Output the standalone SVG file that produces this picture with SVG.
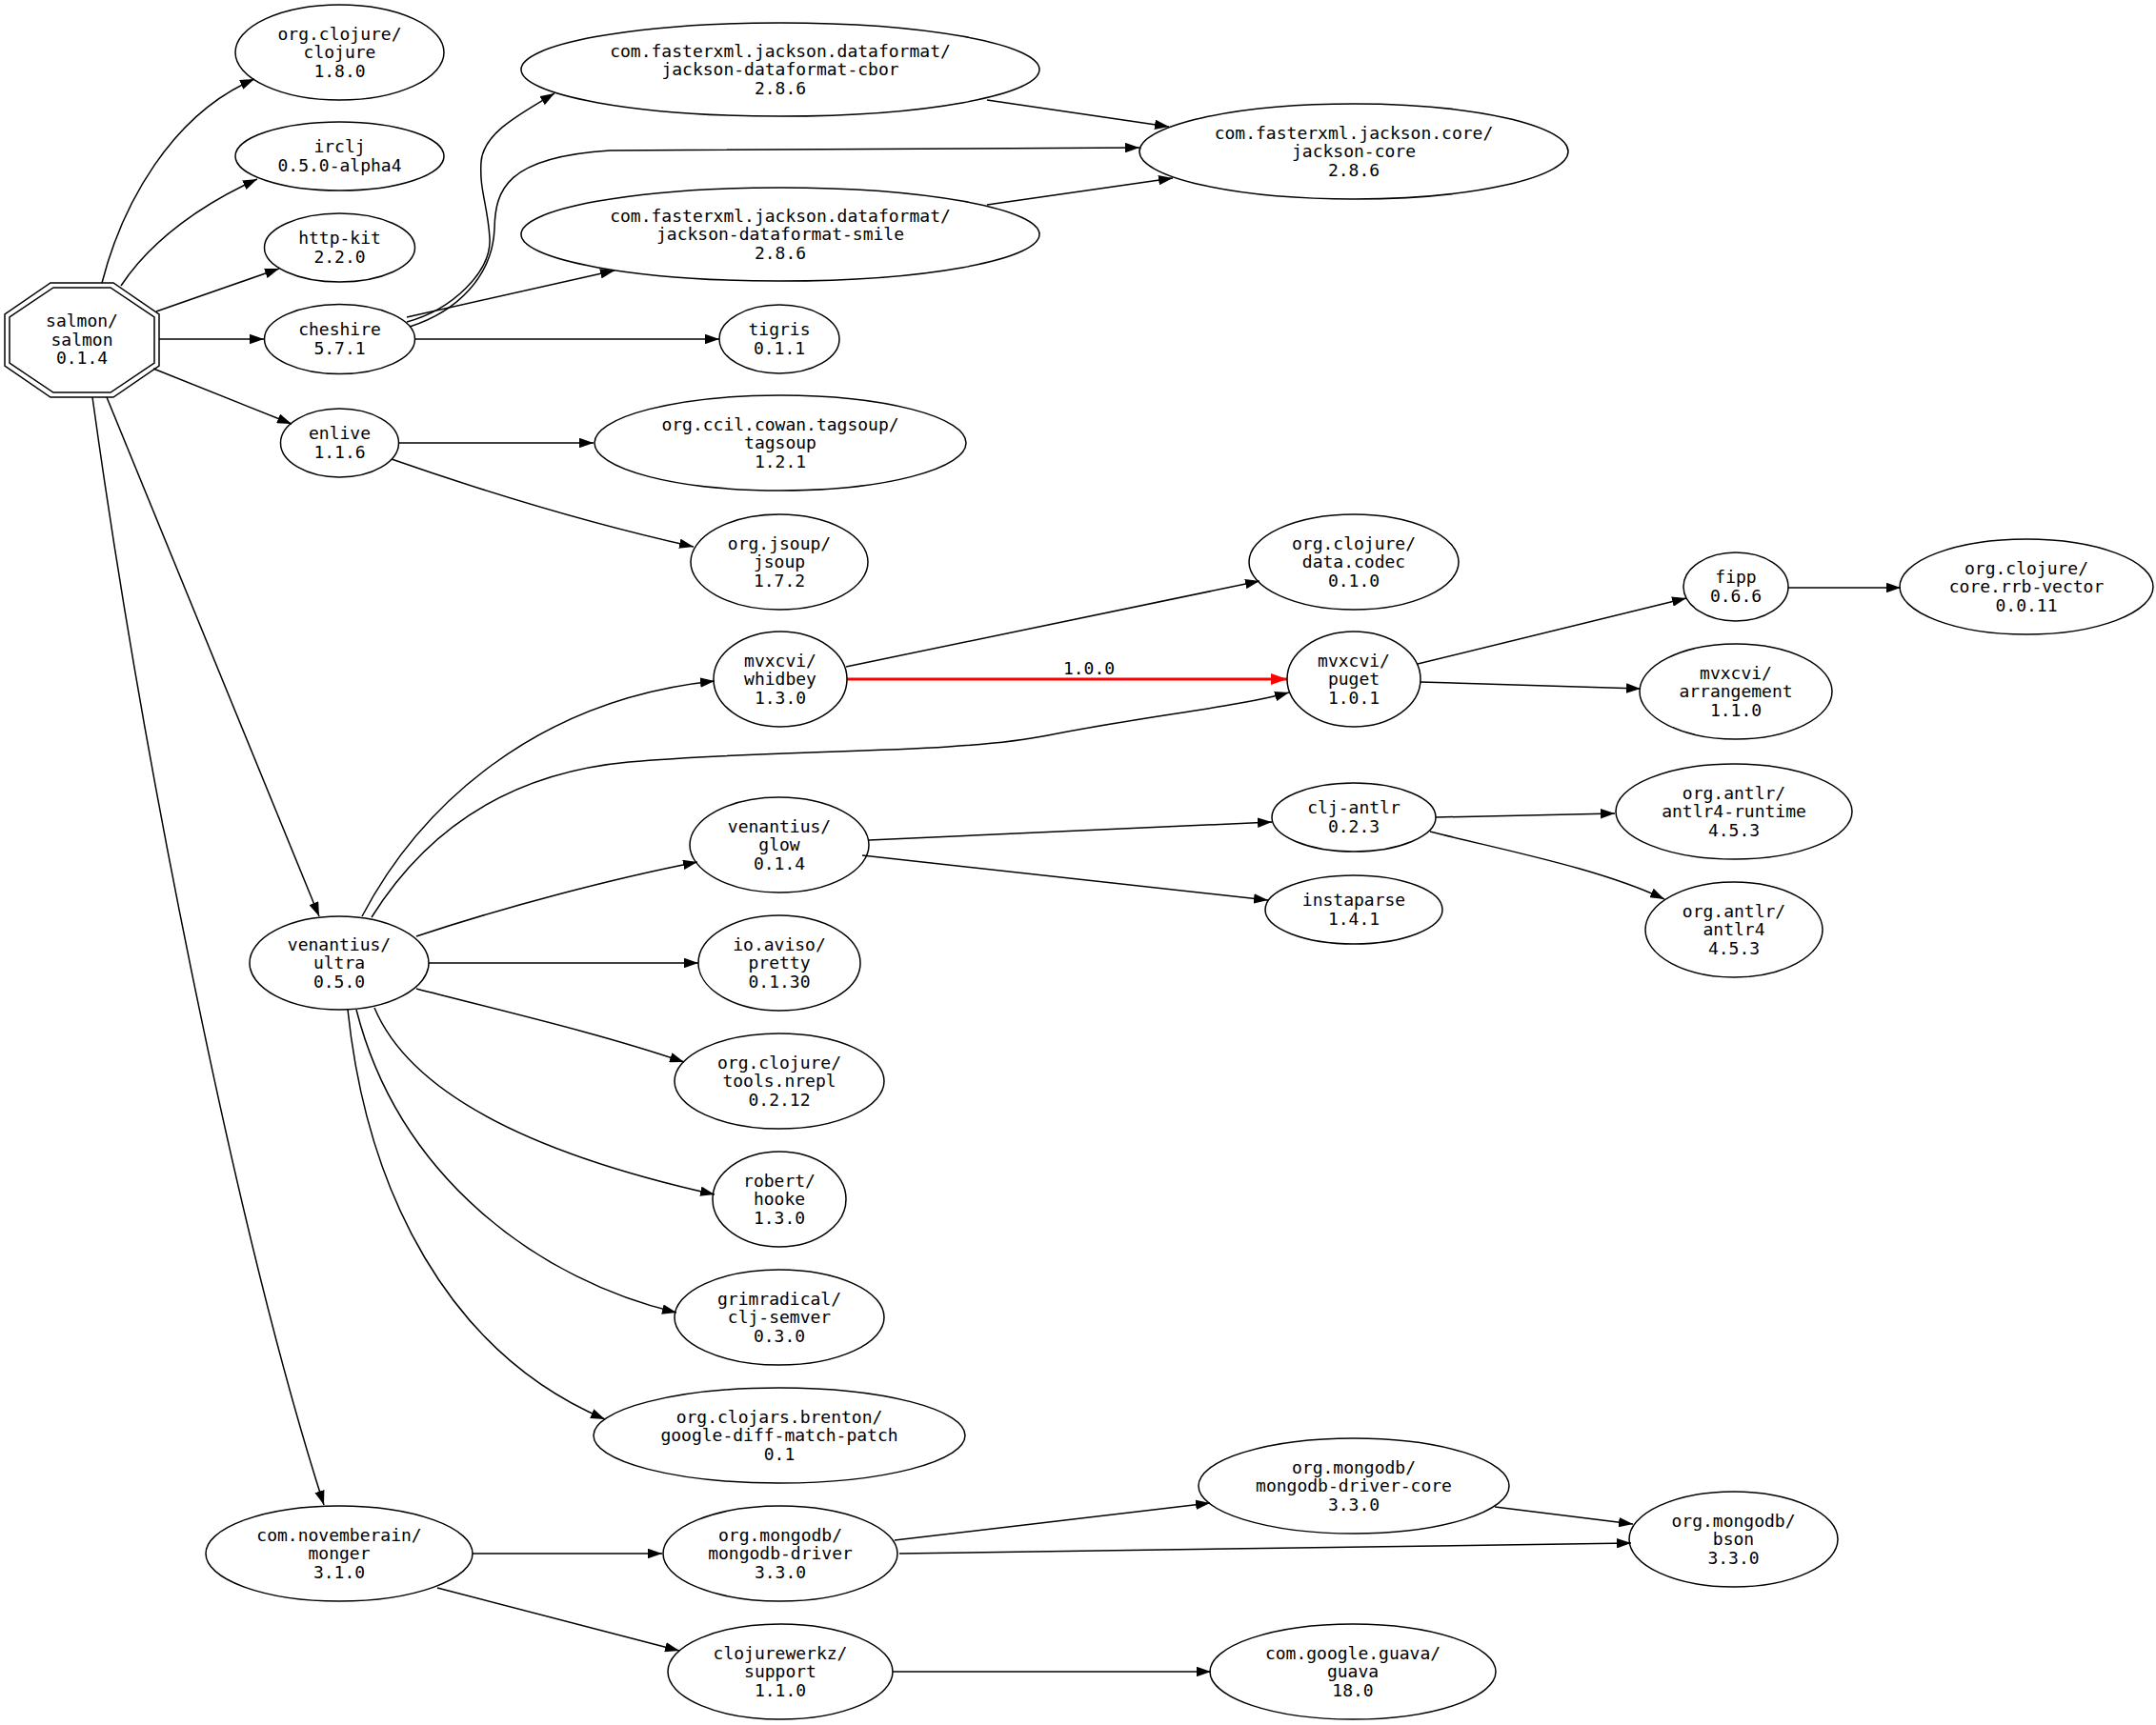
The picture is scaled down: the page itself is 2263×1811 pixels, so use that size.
<svg xmlns="http://www.w3.org/2000/svg" width="2263" height="1811" viewBox="0 0 2263 1811">
<style>
.n ellipse, .n polygon { fill: none; stroke: #000; stroke-width: 1.5; }
text { font-family: "DejaVu Sans Mono", monospace; font-size: 18px; text-anchor: middle; fill: #000; }
.e path { fill: none; stroke: #000; stroke-width: 1.5; marker-end: url(#a); }
.e path.red { stroke: #ff0000; stroke-width: 3; marker-end: url(#r); }
</style>
<defs>
<marker id="a" markerUnits="userSpaceOnUse" viewBox="0 0 15 10.5" markerWidth="15" markerHeight="10.5" refX="15" refY="5.25" orient="auto"><path d="M0,0 L15,5.25 L0,10.5 z" fill="#000"/></marker>
<marker id="r" markerUnits="userSpaceOnUse" viewBox="0 0 17 12" markerWidth="17" markerHeight="12" refX="17" refY="6" orient="auto"><path d="M0,0 L17,6 L0,12 z" fill="#ff0000"/></marker>
</defs>
<rect width="2263" height="1811" fill="#fff"/>
<g id="connectors" class="e">
<path d="M107,297 C128,215 180,120 267,83"/>
<path d="M127,300 C160,250 215,213 270,188"/>
<path d="M164,327 L293,282"/>
<path d="M167,356 L277,356"/>
<path d="M161,387 L306,445"/>
<path d="M112,417 L335,962"/>
<path d="M97,417 C150,800 250,1300 340,1580"/>
<path d="M427,338 C475,325 516,285 514,250 C512,215 503,200 505,170 C507,140 545,120 582,98"/>
<path d="M430,343 C480,327 517,290 519,240 C520,200 530,165 640,158 L1196,155"/>
<path d="M427,333 L645,284"/>
<path d="M435,356 L755,356"/>
<path d="M418,465 L623,465"/>
<path d="M411,482 C520,520 620,550 728,574"/>
<path d="M1036,105 L1227,133"/>
<path d="M1036,215 L1231,187"/>
<path d="M888,700 L1322,610"/>
<path class="red" d="M889,713 L1351,713"/>
<path d="M380,962 C440,848 560,735 750,715"/>
<path d="M390,963 C445,875 530,812 660,800 C820,786 1000,792 1100,772 C1200,752 1300,742 1353,727"/>
<path d="M437,983 C530,952 645,922 732,905"/>
<path d="M450,1011 L733,1011"/>
<path d="M437,1038 C530,1062 630,1085 718,1115"/>
<path d="M393,1058 C440,1170 620,1225 750,1254"/>
<path d="M374,1060 C420,1240 570,1345 710,1378"/>
<path d="M365,1060 C385,1250 470,1420 635,1490"/>
<path d="M1488,697 L1770,628"/>
<path d="M1491,716 L1722,723"/>
<path d="M1877,617 L1995,617"/>
<path d="M912,882 L1335,863"/>
<path d="M905,898 L1331,945"/>
<path d="M1507,858 L1695,854"/>
<path d="M1501,873 C1580,893 1680,912 1747,944"/>
<path d="M496,1631 L695,1631"/>
<path d="M459,1667 L713,1733"/>
<path d="M939,1617 L1270,1578"/>
<path d="M944,1631 L1712,1620"/>
<path d="M1569,1582 L1714,1600"/>
<path d="M937,1755 L1271,1755"/>
</g>
<text x="1143" y="708">1.0.0</text>

<g id="salmon" class="n">
<polygon points="53,297 119,297 167,330 167,384 119,417 53,417 5,384 5,330"/>
<polygon points="56,302 116,302 162,333 162,381 116,412 56,412 10,381 10,333"/>
<text x="86" y="343">salmon/</text><text x="86" y="362.5">salmon</text><text x="86" y="382">0.1.4</text>
</g>
<g id="clojure" class="n"><ellipse cx="356.5" cy="55" rx="109.5" ry="50"/>
<text x="356.5" y="41.5">org.clojure/</text><text x="356.5" y="61">clojure</text><text x="356.5" y="80.5">1.8.0</text></g>
<g id="irclj" class="n"><ellipse cx="356.5" cy="164" rx="109.5" ry="36"/>
<text x="356.5" y="160.25">irclj</text><text x="356.5" y="179.75">0.5.0-alpha4</text></g>
<g id="http-kit" class="n"><ellipse cx="356.5" cy="260" rx="79" ry="36"/>
<text x="356.5" y="256.25">http-kit</text><text x="356.5" y="275.75">2.2.0</text></g>
<g id="cheshire" class="n"><ellipse cx="356.5" cy="356" rx="79" ry="36.5"/>
<text x="356.5" y="352.25">cheshire</text><text x="356.5" y="371.75">5.7.1</text></g>
<g id="enlive" class="n"><ellipse cx="356.5" cy="465" rx="62" ry="36"/>
<text x="356.5" y="461.25">enlive</text><text x="356.5" y="480.75">1.1.6</text></g>
<g id="ultra" class="n"><ellipse cx="356" cy="1011" rx="94" ry="49"/>
<text x="356" y="997.5">venantius/</text><text x="356" y="1017">ultra</text><text x="356" y="1036.5">0.5.0</text></g>
<g id="monger" class="n"><ellipse cx="356" cy="1631" rx="140" ry="50"/>
<text x="356" y="1617.5">com.novemberain/</text><text x="356" y="1637">monger</text><text x="356" y="1656.5">3.1.0</text></g>

<g id="cbor" class="n"><ellipse cx="819" cy="73" rx="272" ry="49"/>
<text x="819" y="59.5">com.fasterxml.jackson.dataformat/</text><text x="819" y="79">jackson-dataformat-cbor</text><text x="819" y="98.5">2.8.6</text></g>
<g id="smile" class="n"><ellipse cx="819" cy="246" rx="272" ry="49"/>
<text x="819" y="232.5">com.fasterxml.jackson.dataformat/</text><text x="819" y="252">jackson-dataformat-smile</text><text x="819" y="271.5">2.8.6</text></g>
<g id="tigris" class="n"><ellipse cx="818" cy="356" rx="63" ry="36"/>
<text x="818" y="352.25">tigris</text><text x="818" y="371.75">0.1.1</text></g>
<g id="tagsoup" class="n"><ellipse cx="819" cy="465" rx="195" ry="50"/>
<text x="819" y="451.5">org.ccil.cowan.tagsoup/</text><text x="819" y="471">tagsoup</text><text x="819" y="490.5">1.2.1</text></g>
<g id="jsoup" class="n"><ellipse cx="818" cy="590" rx="93" ry="50"/>
<text x="818" y="576.5">org.jsoup/</text><text x="818" y="596">jsoup</text><text x="818" y="615.5">1.7.2</text></g>
<g id="whidbey" class="n"><ellipse cx="819" cy="713" rx="70" ry="50"/>
<text x="819" y="699.5">mvxcvi/</text><text x="819" y="719">whidbey</text><text x="819" y="738.5">1.3.0</text></g>
<g id="glow" class="n"><ellipse cx="818" cy="887" rx="94" ry="50"/>
<text x="818" y="873.5">venantius/</text><text x="818" y="893">glow</text><text x="818" y="912.5">0.1.4</text></g>
<g id="pretty" class="n"><ellipse cx="818" cy="1011" rx="85" ry="50"/>
<text x="818" y="997.5">io.aviso/</text><text x="818" y="1017">pretty</text><text x="818" y="1036.5">0.1.30</text></g>
<g id="nrepl" class="n"><ellipse cx="818" cy="1135" rx="110" ry="50"/>
<text x="818" y="1121.5">org.clojure/</text><text x="818" y="1141">tools.nrepl</text><text x="818" y="1160.5">0.2.12</text></g>
<g id="hooke" class="n"><ellipse cx="818" cy="1259" rx="70" ry="50"/>
<text x="818" y="1245.5">robert/</text><text x="818" y="1265">hooke</text><text x="818" y="1284.5">1.3.0</text></g>
<g id="semver" class="n"><ellipse cx="818" cy="1383" rx="110" ry="50"/>
<text x="818" y="1369.5">grimradical/</text><text x="818" y="1389">clj-semver</text><text x="818" y="1408.5">0.3.0</text></g>
<g id="diff-match-patch" class="n"><ellipse cx="818" cy="1507" rx="195" ry="50"/>
<text x="818" y="1493.5">org.clojars.brenton/</text><text x="818" y="1513">google-diff-match-patch</text><text x="818" y="1532.5">0.1</text></g>
<g id="mongodb-driver" class="n"><ellipse cx="819" cy="1631" rx="123" ry="50"/>
<text x="819" y="1617.5">org.mongodb/</text><text x="819" y="1637">mongodb-driver</text><text x="819" y="1656.5">3.3.0</text></g>
<g id="support" class="n"><ellipse cx="819" cy="1755" rx="118" ry="50"/>
<text x="819" y="1741.5">clojurewerkz/</text><text x="819" y="1761">support</text><text x="819" y="1780.5">1.1.0</text></g>

<g id="jackson-core" class="n"><ellipse cx="1421" cy="159" rx="225" ry="50"/>
<text x="1421" y="145.5">com.fasterxml.jackson.core/</text><text x="1421" y="165">jackson-core</text><text x="1421" y="184.5">2.8.6</text></g>
<g id="data-codec" class="n"><ellipse cx="1421" cy="590" rx="110" ry="50"/>
<text x="1421" y="576.5">org.clojure/</text><text x="1421" y="596">data.codec</text><text x="1421" y="615.5">0.1.0</text></g>
<g id="puget" class="n"><ellipse cx="1421" cy="713" rx="70" ry="50"/>
<text x="1421" y="699.5">mvxcvi/</text><text x="1421" y="719">puget</text><text x="1421" y="738.5">1.0.1</text></g>
<g id="clj-antlr" class="n"><ellipse cx="1421" cy="858" rx="86" ry="36"/>
<text x="1421" y="854.25">clj-antlr</text><text x="1421" y="873.75">0.2.3</text></g>
<g id="instaparse" class="n"><ellipse cx="1421" cy="955" rx="93" ry="36"/>
<text x="1421" y="951.25">instaparse</text><text x="1421" y="970.75">1.4.1</text></g>
<g id="mongodb-driver-core" class="n"><ellipse cx="1421" cy="1560" rx="163" ry="50"/>
<text x="1421" y="1546.5">org.mongodb/</text><text x="1421" y="1566">mongodb-driver-core</text><text x="1421" y="1585.5">3.3.0</text></g>
<g id="guava" class="n"><ellipse cx="1420" cy="1755" rx="150" ry="50"/>
<text x="1420" y="1741.5">com.google.guava/</text><text x="1420" y="1761">guava</text><text x="1420" y="1780.5">18.0</text></g>

<g id="fipp" class="n"><ellipse cx="1822" cy="616" rx="55" ry="36"/>
<text x="1822" y="612.25">fipp</text><text x="1822" y="631.75">0.6.6</text></g>
<g id="arrangement" class="n"><ellipse cx="1822" cy="726" rx="101" ry="50"/>
<text x="1822" y="712.5">mvxcvi/</text><text x="1822" y="732">arrangement</text><text x="1822" y="751.5">1.1.0</text></g>
<g id="antlr4-runtime" class="n"><ellipse cx="1820" cy="852" rx="124" ry="50"/>
<text x="1820" y="838.5">org.antlr/</text><text x="1820" y="858">antlr4-runtime</text><text x="1820" y="877.5">4.5.3</text></g>
<g id="antlr4" class="n"><ellipse cx="1820" cy="976" rx="93" ry="50"/>
<text x="1820" y="962.5">org.antlr/</text><text x="1820" y="982">antlr4</text><text x="1820" y="1001.5">4.5.3</text></g>
<g id="bson" class="n"><ellipse cx="1819.5" cy="1616" rx="109.5" ry="50"/>
<text x="1819.5" y="1602.5">org.mongodb/</text><text x="1819.5" y="1622">bson</text><text x="1819.5" y="1641.5">3.3.0</text></g>
<g id="rrb-vector" class="n"><ellipse cx="2127" cy="616" rx="133" ry="50"/>
<text x="2127" y="602.5">org.clojure/</text><text x="2127" y="622">core.rrb-vector</text><text x="2127" y="641.5">0.0.11</text></g>
</svg>
